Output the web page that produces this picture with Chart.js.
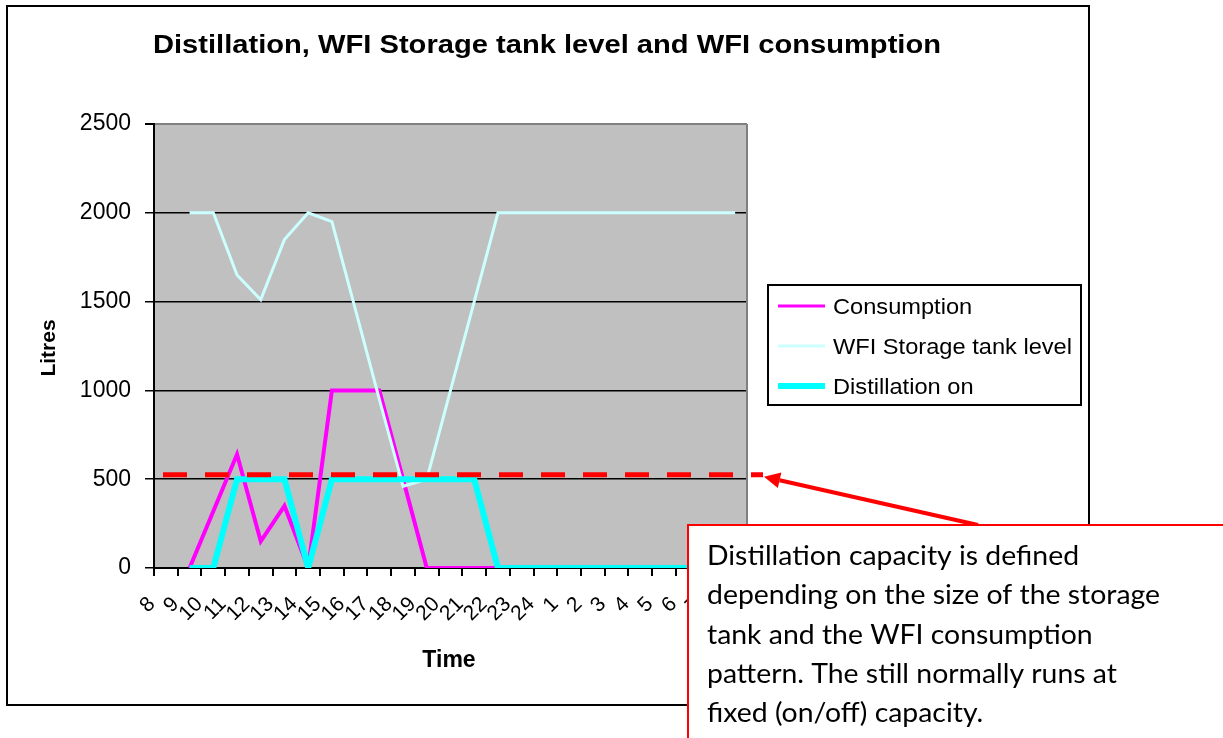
<!DOCTYPE html>
<html>
<head>
<meta charset="utf-8">
<script src="https://cdn.jsdelivr.net/npm/chart.js@4.4.1/dist/chart.umd.min.js"></script>
<style>
html,body{margin:0;padding:0;background:#fff;}
#wrap{width:1223px;height:738px;position:relative;}
canvas{display:block;}
</style>
</head>
<body>
<div id="wrap"><canvas id="c" width="1223" height="738"></canvas></div>
<script>
// ---- data ----
const categories = ['8','9','10','11','12','13','14','15','16','17','18','19','20','21','22','23','24','1','2','3','4','5','6','7','8'];
const consumption = [null,0,320,640,150,350,0,1000,1000,1000,500,0,0,0,0,0,0,0,0,0,0,0,0,0,0];
const tankLevel   = [null,2000,2000,1650,1510,1850,2000,1950,1450,950,460,500,1000,1500,2000,2000,2000,2000,2000,2000,2000,2000,2000,2000,2000];
const distillation= [null,0,0,500,500,500,0,500,500,500,500,500,500,500,0,0,0,0,0,0,0,0,0,0,0];
const capacity = 525;
const yMin = 0, yMax = 2500, yStep = 500;
const seriesNames = ['Consumption','WFI Storage tank level','Distillation on'];
const titleText = 'Distillation, WFI Storage tank level and WFI consumption';
const yTitle = 'Litres';
const xTitle = 'Time';
const noteLines = [
  'Distillation capacity is defined',
  'depending on the size of the storage',
  'tank and the WFI consumption',
  'pattern. The still normally runs at',
  'fixed (on/off) capacity.'
];
// ---- styles ----
const colors = ['#FF00FF','#CCFFFF','#00FFFF'];
const widths = [4,3,6];
const AR = '"Liberation Sans", Arial, sans-serif';

function stretchText(ctx, text, x, y, font, sx, align){
  ctx.save();
  ctx.font = font;
  const w = ctx.measureText(text).width * sx;
  let x0 = x;
  if (align === 'center') x0 = x - w/2;
  else if (align === 'right') x0 = x - w;
  ctx.translate(x0, y);
  ctx.scale(sx, 1);
  ctx.textAlign = 'left';
  ctx.fillText(text, 0, 0);
  ctx.restore();
}

const deco = {
  id: 'deco',
  beforeDraw(chart){
    const {ctx, chartArea:a} = chart;
    ctx.save();
    ctx.fillStyle = '#ffffff';
    ctx.fillRect(0,0,chart.width,chart.height);
    ctx.fillStyle = '#C0C0C0';
    ctx.fillRect(a.left, a.top, a.right-a.left, a.bottom-a.top);
    ctx.restore();
  },
  afterDraw(chart){
    const {ctx, chartArea:a} = chart;
    const ys = chart.scales.y;
    ctx.save();
    // plot area right border
    ctx.strokeStyle = '#808080';
    ctx.lineWidth = 2;
    ctx.beginPath();
    ctx.moveTo(a.right, a.top); ctx.lineTo(a.right, a.bottom);
    ctx.stroke();
    // outer frame
    ctx.strokeStyle = '#000';
    ctx.lineWidth = 2;
    ctx.strokeRect(7, 6, 1082, 699);
    // title
    ctx.fillStyle = '#000';
    ctx.textBaseline = 'alphabetic';
    ctx.font = 'bold 26px ' + AR;
    let tw = ctx.measureText(titleText).width;
    stretchText(ctx, titleText, 547, 53, 'bold 26px ' + AR, 788/tw, 'center');
    // x title
    stretchText(ctx, xTitle, 449, 667, 'bold 23px ' + AR, 1.0, 'center');
    // y title
    ctx.save();
    ctx.translate(55, 348);
    ctx.rotate(-Math.PI/2);
    ctx.font = 'bold 21px ' + AR;
    ctx.textAlign = 'center';
    ctx.fillText(yTitle, 0, 0);
    ctx.restore();
    // legend
    ctx.fillStyle = '#fff';
    ctx.fillRect(768, 285, 313, 120);
    ctx.strokeStyle = '#000';
    ctx.lineWidth = 2;
    ctx.strokeRect(768, 285, 313, 120);
    const legY = [306, 346, 386];
    const lf = '22px ' + AR;
    ctx.font = lf;
    const lsx = 239 / ctx.measureText(seriesNames[1]).width;
    for (let i=0;i<3;i++){
      ctx.strokeStyle = colors[i];
      ctx.lineWidth = [3,3,6][i];
      ctx.beginPath();
      ctx.moveTo(778, legY[i]); ctx.lineTo(825, legY[i]);
      ctx.stroke();
      ctx.fillStyle = '#000';
      stretchText(ctx, seriesNames[i], 833, legY[i]+8, lf, lsx, 'left');
    }
    // capacity dashed line
    const yc = ys.getPixelForValue(capacity);
    const xs = a.left + 9, xe = a.right + 16;
    ctx.strokeStyle = '#FF0000';
    ctx.lineWidth = 5;
    ctx.setLineDash([24,18]);
    ctx.beginPath();
    ctx.moveTo(xs, yc); ctx.lineTo(xe, yc);
    ctx.stroke();
    ctx.setLineDash([]);
    // arrow
    const tipX = xe + 1, tipY = yc + 2;
    const tailX = 978, tailY = 525;
    const ang = Math.atan2(tailY - tipY, tailX - tipX);
    const hl = 16, hw = 8;
    const bx = tipX + Math.cos(ang)*hl, by = tipY + Math.sin(ang)*hl;
    ctx.strokeStyle = '#FF0000';
    ctx.lineWidth = 4;
    ctx.beginPath();
    ctx.moveTo(tailX, tailY); ctx.lineTo(bx, by);
    ctx.stroke();
    ctx.fillStyle = '#FF0000';
    ctx.beginPath();
    ctx.moveTo(tipX, tipY);
    ctx.lineTo(bx - Math.sin(ang)*hw, by + Math.cos(ang)*hw);
    ctx.lineTo(bx + Math.sin(ang)*hw, by - Math.cos(ang)*hw);
    ctx.closePath();
    ctx.fill();
    // note box
    ctx.fillStyle = '#fff';
    ctx.fillRect(688, 525, 540, 220);
    ctx.strokeStyle = '#FF0000';
    ctx.lineWidth = 2;
    ctx.strokeRect(688, 525, 540, 220);
    ctx.fillStyle = '#000';
    const nf = '26px Lato, "Open Sans", sans-serif';
    ctx.font = nf;
    const nsx = 453 / ctx.measureText(noteLines[1]).width;
    const base = [565, 604, 644, 683, 722];
    noteLines.forEach((t,i)=>stretchText(ctx, t, 707, base[i], nf, nsx, 'left'));
    ctx.restore();
  }
};

const ds = [consumption, tankLevel, distillation].map((d,i)=>({
  label: seriesNames[i],
  data: d,
  borderColor: colors[i],
  backgroundColor: colors[i],
  borderWidth: widths[i],
  pointRadius: 0,
  tension: 0,
  fill: false,
  order: 3 - i,
  borderJoinStyle: 'miter'
}));

new Chart(document.getElementById('c'), {
  type: 'line',
  data: { labels: categories, datasets: ds },
  options: {
    responsive: false,
    animation: false,
    events: [],
    layout: { padding: { top: 124, right: 476, bottom: 0, left: 0 } },
    plugins: { legend: { display: false }, title: { display: false }, tooltip: { enabled: false } },
    scales: {
      x: {
        offset: true,
        grid: { offset: true, drawOnChartArea: false, drawTicks: true, tickLength: 8, color: '#000', lineWidth: 2 },
        border: { display: true, color: '#000', width: 2 },
        ticks: { autoSkip: false, minRotation: 45, maxRotation: 45, labelOffset: -14, padding: 16,
                 color: '#000', font: { family: 'Liberation Sans', size: 21 } },
        afterFit(s){ s.height = 170; }
      },
      y: {
        min: yMin, max: yMax,
        grid: { color: (c)=> c.tick && c.tick.value === yMax ? '#808080' : '#000', lineWidth: (c)=> c.tick && c.tick.value === yMax ? 2 : 1.5,
                tickColor: '#000', tickLength: 9, drawTicks: true },
        border: { display: true, color: '#000', width: 2 },
        ticks: { stepSize: yStep, padding: 14, color: '#000', font: { family: 'Liberation Sans', size: 23 },
                 callback: (v)=> String(v) },
        afterFit(s){ s.width = 154; }
      }
    }
  },
  plugins: [deco]
});
</script>
</body>
</html>
